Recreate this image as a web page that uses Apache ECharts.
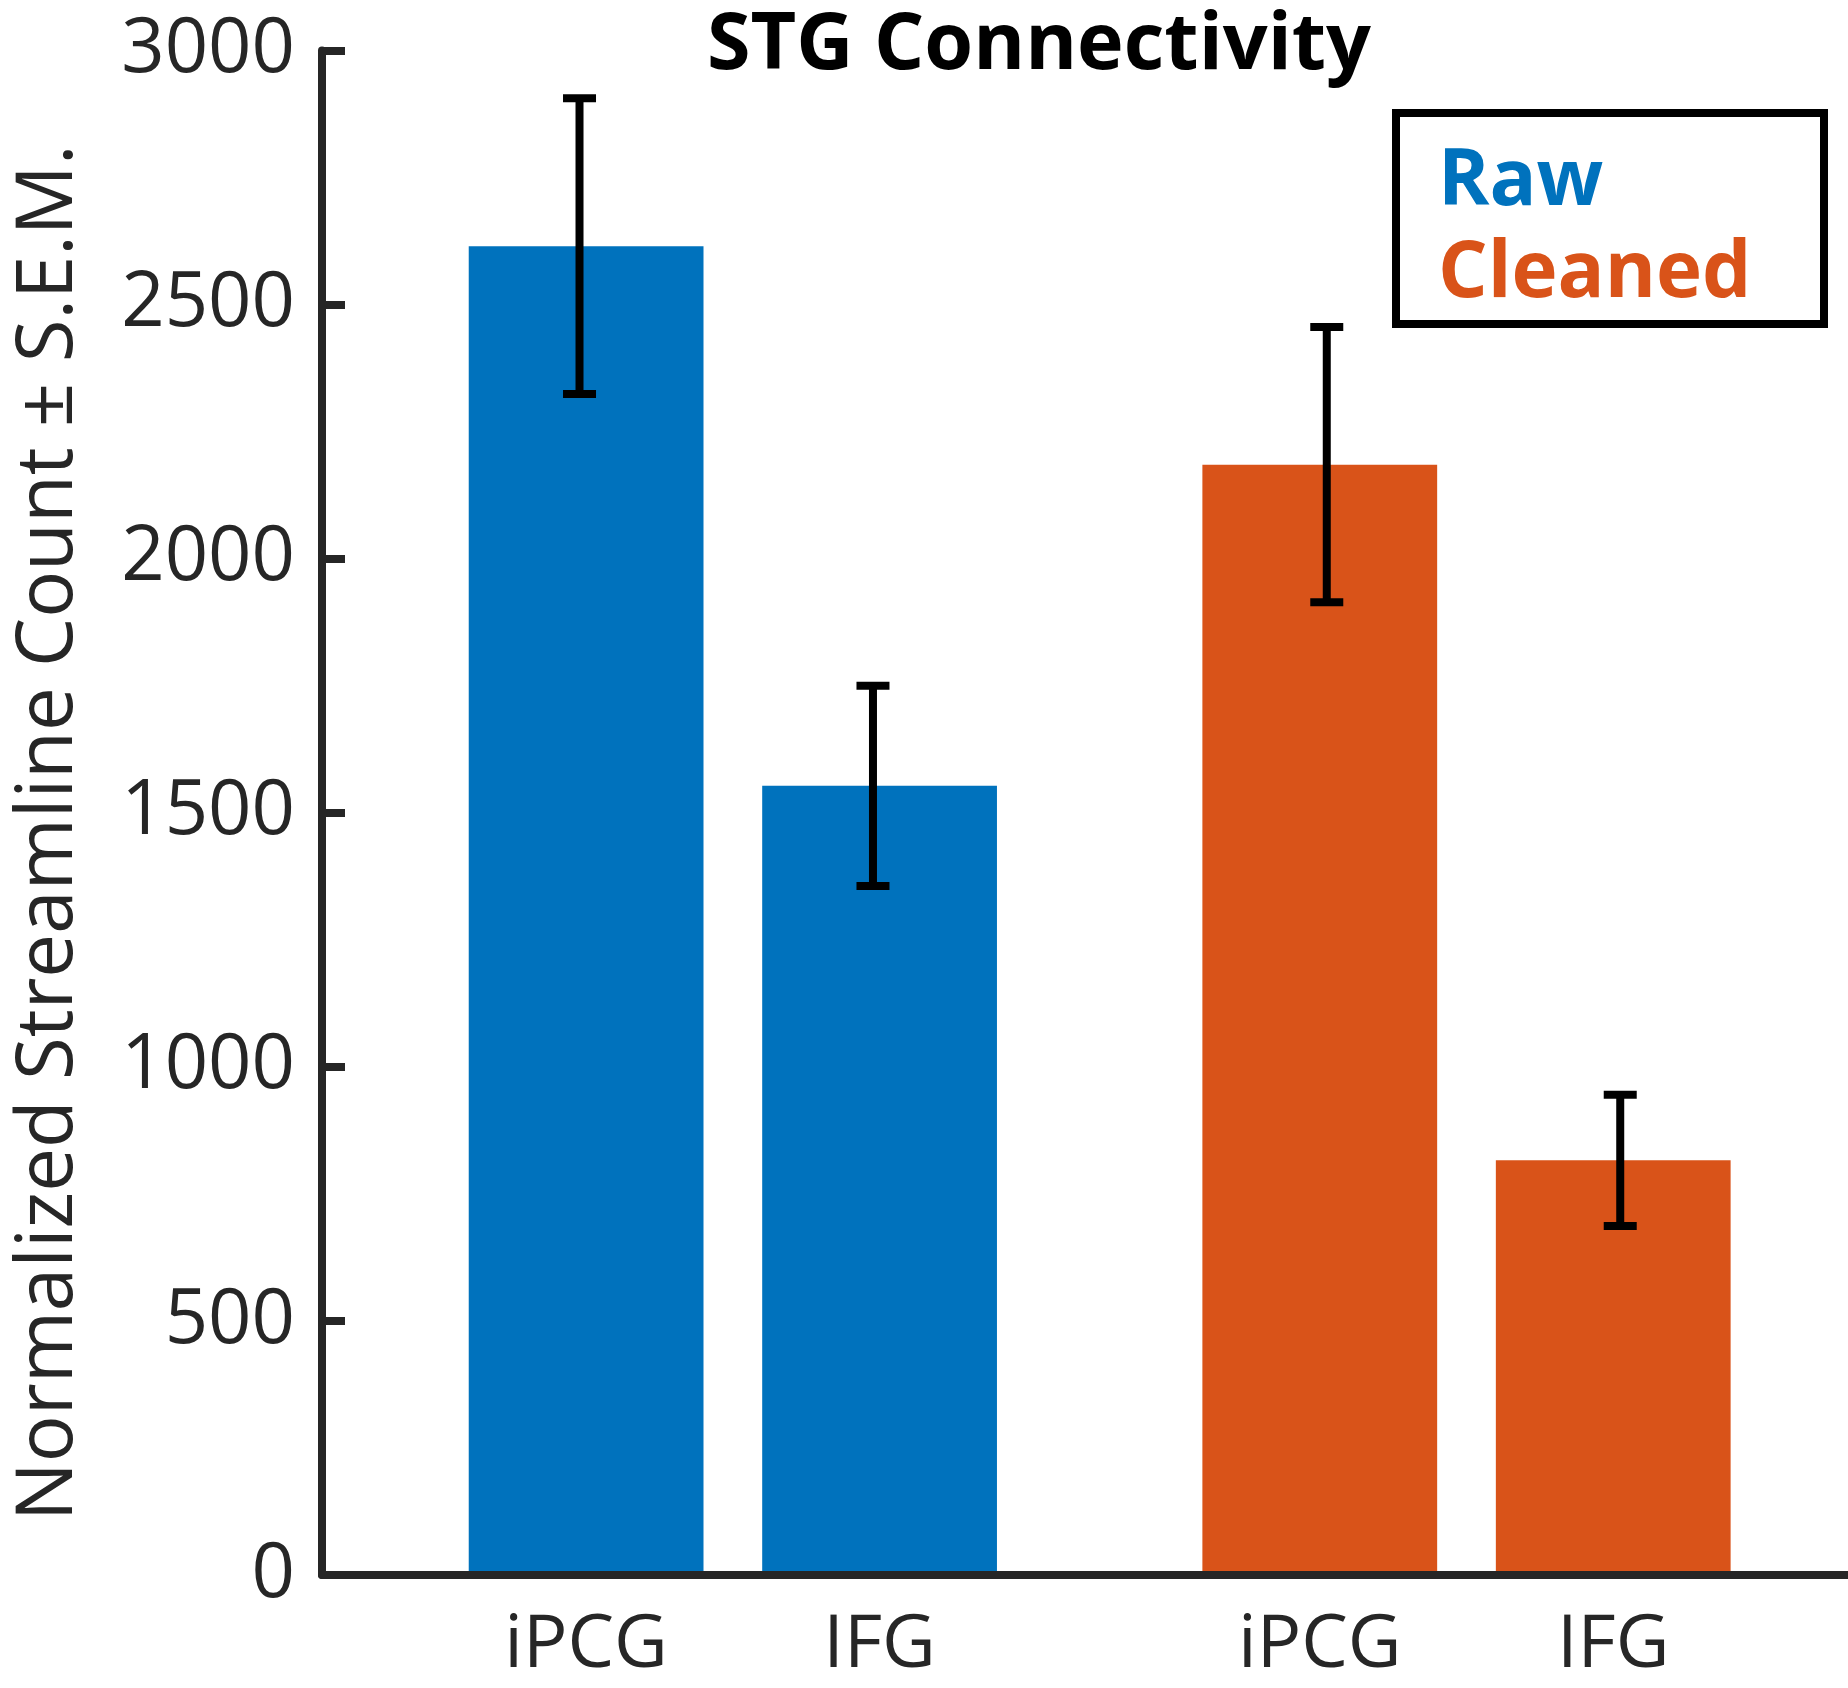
<!DOCTYPE html>
<html>
<head>
<meta charset="utf-8">
<script src="https://cdn.jsdelivr.net/npm/echarts@6/dist/echarts.min.js"></script>
<style>
  html, body { margin: 0; padding: 0; background: #fff; }
  #chart { width: 1848px; height: 1688px; }
</style>
</head>
<body>
<div id="chart"></div>
<script>
// ---- data ----
const categories = ['iPCG', 'IFG'];
const groupNames = ['Raw', 'Cleaned'];
const rawMean = [2615, 1553];
const rawSEM = [291, 197];
const cleanedMean = [2185, 816];
const cleanedSEM = [271, 129];
const rawPos = [1, 2];
const cleanedPos = [3.5, 4.5];
const yMin = 0, yMax = 3000, yStep = 500;
const titleText = 'STG Connectivity';
const yAxisTitle = 'Normalized Streamline Count \u00B1 S.E.M.';

// ---- style ----
const BLUE = '#0072BD';
const ORANGE = '#D95319';
const AX = '#262626';
const FONT = '"Open Sans", "Noto Sans", sans-serif';
const BAR_W = 0.8;

const allPos = rawPos.concat(cleanedPos);
const allLabels = categories.concat(categories);

function barRender(params, api) {
  const x = api.value(0), v = api.value(1);
  const p0 = api.coord([x - BAR_W / 2, 0]);
  const p1 = api.coord([x + BAR_W / 2, v]);
  return {
    type: 'rect',
    shape: { x: p0[0], y: p1[1], width: p1[0] - p0[0], height: p0[1] - p1[1] },
    style: { fill: api.visual('color') }
  };
}
function errRender(dxPx) {
  return function (params, api) {
    const x = api.value(0), m = api.value(1), s = api.value(2);
    const hi = api.coord([x, m + s]);
    const lo = api.coord([x, m - s]);
    const cx = hi[0] + dxPx;
    const hw = 16.5;
    const st = { stroke: '#000', lineWidth: 8, lineCap: 'butt' };
    return {
      type: 'group',
      children: [
        { type: 'line', shape: { x1: cx, y1: hi[1], x2: cx, y2: lo[1] }, style: st },
        { type: 'line', shape: { x1: cx - hw, y1: hi[1], x2: cx + hw, y2: hi[1] }, style: st },
        { type: 'line', shape: { x1: cx - hw, y1: lo[1], x2: cx + hw, y2: lo[1] }, style: st }
      ]
    };
  };
}

const chart = echarts.init(document.getElementById('chart'), null, { renderer: 'canvas' });
chart.setOption({
  animation: false,
  backgroundColor: '#ffffff',
  title: {
    text: titleText,
    left: 1034,
    top: 2,
    textAlign: 'center',
    textStyle: { fontFamily: FONT, fontWeight: 'bold', fontSize: 79, color: '#000' }
  },
  legend: {
    data: [
      { name: groupNames[0], textStyle: { color: BLUE } },
      { name: groupNames[1], textStyle: { color: ORANGE } }
    ],
    orient: 'vertical',
    left: 1428,
    top: 132,
    itemWidth: 0,
    itemHeight: 0,
    itemGap: 0,
    icon: 'rect',
    selectedMode: false,
    textStyle: { fontFamily: FONT, fontWeight: 'bold', fontSize: 78, lineHeight: 92 }
  },
  graphic: [{
    type: 'rect',
    shape: { x: 1396, y: 113, width: 428, height: 211 },
    style: { fill: 'none', stroke: '#000', lineWidth: 8 },
    z: 10
  }],
  grid: { left: 322, top: 50.5, bottom: 113, right: 0, containLabel: false },
  xAxis: {
    type: 'value',
    min: 0.1,
    max: 5.3,
    z: 10,
    splitLine: { show: false },
    axisTick: { show: false },
    axisLine: { lineStyle: { color: AX, width: 8 } },
    axisLabel: {
      customValues: allPos,
      formatter: function (v) {
        const i = allPos.indexOf(v);
        return i >= 0 ? allLabels[i] : '';
      },
      fontFamily: FONT, fontSize: 74, color: AX, margin: 34
    }
  },
  yAxis: {
    type: 'value',
    min: yMin, max: yMax, interval: yStep,
    z: 10,
    splitLine: { show: false },
    axisLine: { show: true, lineStyle: { color: AX, width: 8 } },
    axisTick: { show: true, inside: true, length: 23, lineStyle: { color: AX, width: 8 } },
    axisLabel: {
      formatter: function (v) { return String(v); },
      fontFamily: FONT, fontSize: 76, color: AX, margin: 27
    },
    name: yAxisTitle,
    nameLocation: 'middle',
    nameGap: 233,
    nameTextStyle: { fontFamily: FONT, fontSize: 78, color: AX, padding: [0, 40, 0, 0] }
  },
  series: [
    {
      name: groupNames[0], type: 'custom', renderItem: barRender,
      itemStyle: { color: BLUE },
      encode: { x: 0, y: 1 },
      data: rawPos.map((x, i) => [x, rawMean[i]])
    },
    {
      name: groupNames[1], type: 'custom', renderItem: barRender,
      itemStyle: { color: ORANGE },
      encode: { x: 0, y: 1 },
      data: cleanedPos.map((x, i) => [x, cleanedMean[i]])
    },
    {
      name: 'Raw SEM', type: 'custom', renderItem: errRender(-6.6), z: 5,
      encode: { x: 0, y: [1, 2] },
      data: rawPos.map((x, i) => [x, rawMean[i], rawSEM[i]])
    },
    {
      name: 'Cleaned SEM', type: 'custom', renderItem: errRender(7), z: 5,
      encode: { x: 0, y: [1, 2] },
      data: cleanedPos.map((x, i) => [x, cleanedMean[i], cleanedSEM[i]])
    }
  ]
});
</script>
</body>
</html>
